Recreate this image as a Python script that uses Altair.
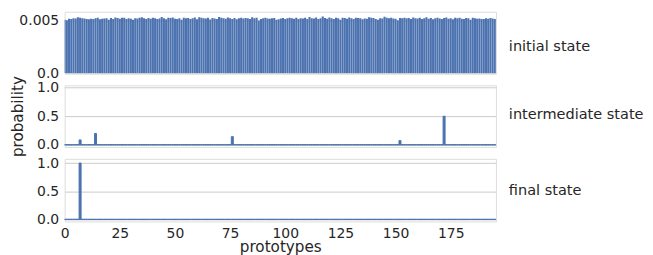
import altair as alt
import pandas as pd

# ---- data ----
initial = [
    5120, 5050, 5210, 5180, 5260, 5230, 5340, 5300, 5250, 5220, 5190, 5160, 5210, 5170, 5260, 5300, 5150, 5200, 5230, 5240,
    5100, 5280, 5190, 5330, 5270, 5210, 5310, 5290, 5180, 5250, 5200, 5120, 5260, 5220, 5290, 5350, 5240, 5180, 5270, 5200,
    5310, 5260, 5190, 5220, 5380, 5240, 5150, 5300, 5270, 5330, 5210, 5180, 5260, 5120, 5300, 5250, 5280, 5190, 5240, 5330,
    5160, 5350, 5290, 5260, 5220, 5310, 5130, 5270, 5230, 5180, 5360, 5290, 5250, 5200, 5320, 5240, 5190, 5280, 5150, 5260,
    5300, 5220, 5280, 5250, 5190, 5340, 5240, 5300, 5030, 5180, 5260, 5290, 5220, 5200, 5250, 5270, 5100, 5150, 5230, 5280,
    5190, 5240, 5310, 5260, 5210, 5290, 5180, 5250, 5230, 5300, 5170, 5360, 5240, 5220, 5330, 5190, 5260, 5410, 5280, 5200,
    5330, 5250, 5180, 5300, 5240, 5120, 5290, 5270, 5210, 5330, 5250, 5190, 5310, 5280, 5260, 5150, 5230, 5210, 5350, 5300,
    5270, 5180, 5120, 5260, 5230, 5400, 5290, 5250, 5310, 5220, 5200, 5060, 5280, 5250, 5300, 5240, 5270, 5190, 5330, 5260,
    5220, 5300, 5170, 5260, 5340, 5210, 5280, 5150, 5250, 5300, 5230, 5190, 5270, 5320, 5200, 5240, 5150, 5290, 5260, 5310,
    5210, 5180, 5270, 5240, 5120, 5300, 5260, 5210, 5230, 5190, 5170, 5250, 5200, 5280, 5230, 5190,
]
initial = [v / 1e6 for v in initial]

mid_spike_idx = [7, 14, 76, 152, 172]
mid_spike_val = [0.087, 0.20, 0.144, 0.075, 0.50]
mid_base = 0.004

final_spike_idx = [7]
final_spike_val = [1.0]
final_base = 0.004

labels = ["initial state", "intermediate state", "final state"]
x_ticks = [0, 25, 50, 75, 100, 125, 150, 175]

N = len(initial)
prototypes = list(range(N))
intermediate = [mid_base] * N
for i, v in zip(mid_spike_idx, mid_spike_val):
    intermediate[i] = v
final = [final_base] * N
for i, v in zip(final_spike_idx, final_spike_val):
    final[i] = v

BLUE = "#4c72b0"
TXT = "#262626"
FONT = "DejaVu Sans"
W = 434


def panel(values, label, ydomain, yticks, yexpr, show_x, ytitle, label_dy, stroke, h, half):
    df = pd.DataFrame({"prototype": prototypes, "probability": values})
    base = alt.Chart(df).transform_calculate(
        x0=f"datum.prototype - {half}", x1=f"datum.prototype + {half}"
    )
    if show_x:
        xaxis = alt.Axis(values=x_ticks, grid=False, ticks=False, domain=False, labelFlush=False,
                         labelFontSize=14, labelColor=TXT, labelFont=FONT, labelPadding=5,
                         title="prototypes", titleFontSize=15.3, titleFont=FONT,
                         titleColor=TXT, titleFontWeight="normal", titlePadding=-1)
    else:
        xaxis = None
    yaxis_kw = dict(values=yticks, labelExpr=yexpr, grid=True, ticks=False, domain=False,
                    labelFontSize=14, labelColor=TXT, labelFont=FONT, labelPadding=6,
                    gridColor="#cccccc", gridWidth=1)
    if ytitle:
        yaxis = alt.Axis(title=ytitle, titleFontSize=15.3, titleFont=FONT, titleColor=TXT,
                         titleFontWeight="normal", titlePadding=11, **yaxis_kw)
    else:
        yaxis = alt.Axis(title=None, **yaxis_kw)
    mark_kw = dict(color=BLUE, clip=True)
    if stroke:
        mark_kw.update(stroke=BLUE, strokeWidth=1)
    bars = base.mark_bar(**mark_kw).encode(
        x=alt.X("x0:Q", scale=alt.Scale(domain=[0, 195.5], nice=False, zero=False), axis=xaxis),
        x2="x1:Q",
        y=alt.Y("probability:Q", scale=alt.Scale(domain=ydomain, nice=False, zero=False), axis=yaxis),
        y2=alt.datum(0),
    )
    txt = alt.Chart(pd.DataFrame({"t": [label]})).mark_text(
        align="left", baseline="middle", fontSize=14.6, font=FONT, color=TXT
    ).encode(x=alt.value(W + 13), y=alt.value(h / 2 + label_dy), text="t:N")
    return alt.layer(bars, txt).properties(width=W, height=h)


top = panel(initial, labels[0], [0, 0.00587], [0, 0.005],
            "datum.value == 0 ? '0.0' : format(datum.value, '.3f')", False, None, 4, False, 62, 0.47)
mid = panel(intermediate, labels[1], [-0.035, 1.04], [0, 0.5, 1.0],
            "format(datum.value, '.1f')", False, "probability", -1, True, 62, 0.45)
bot = panel(final, labels[2], [-0.035, 1.075], [0, 0.5, 1.0],
            "format(datum.value, '.1f')", True, None, 1, True, 63, 0.45)

chart = alt.vconcat(top, mid, bot, spacing=12, bounds="flush").properties(
    padding={"left": 2, "top": 2, "right": 0, "bottom": 0}
).configure_view(stroke="#cccccc", strokeWidth=1.25).configure(background="white")

chart.save("out.html", embed_options={"renderer": "svg", "actions": False})
